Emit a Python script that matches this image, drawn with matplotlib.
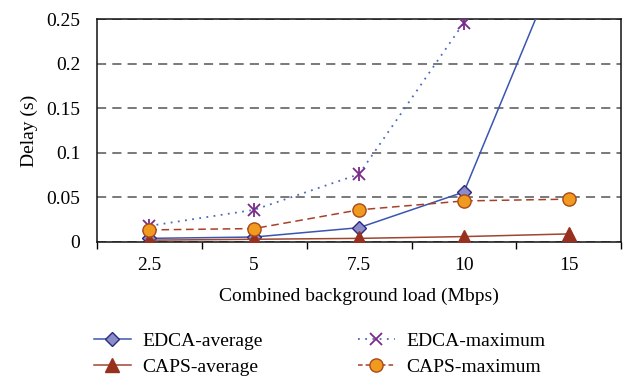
import numpy as np
import matplotlib.pyplot as plt
from matplotlib.lines import Line2D

plt.rcParams['font.family'] = ['Liberation Serif', 'DejaVu Serif']

loads = ['2.5', '5', '7.5', '10', '15']
edca_avg = [0.004, 0.0055, 0.016, 0.056, 0.34]
edca_max = [0.018, 0.036, 0.076, 0.246, 0.60]
caps_avg = [0.002, 0.003, 0.004, 0.006, 0.009]
caps_max = [0.0135, 0.015, 0.036, 0.046, 0.048]

x = np.arange(len(loads))

fig = plt.figure(figsize=(6.25, 3.81), dpi=100)
ax = fig.add_axes([0.155, 0.365, 0.839, 0.585])

ax.plot(x, edca_avg, color='#3a56b0', lw=1.1, marker='D', ms=7.5,
        mfc='#8c8cc8', mec='#2a2a80', mew=1, zorder=4)
ax.plot(x, caps_avg, color='#a0452e', lw=1.1, marker='^', ms=10,
        mfc='#983020', mec='#983020', zorder=4)
ax.plot(x, edca_max, color='#4a6ac0', lw=1.3, ls=(0, (1, 3)), marker='x', ms=9,
        mec='#7a2a8a', mew=1.3, zorder=4)
ax.plot(x, edca_max, ls='none', marker='|', ms=10, mec='#7a2a8a', mew=1.3, zorder=4)
ax.plot(x, caps_max, color='#a84028', lw=1.1, ls=(0, (5, 3)), marker='o', ms=9.5,
        mfc='#f09a20', mec='#a84a18', mew=1, zorder=4)

ax.set_xlim(-0.5, len(loads) - 0.5)
ax.set_ylim(0, 0.25)
ax.set_xticks(x)
ax.set_xticklabels(loads)
ax.set_xticks(np.arange(-0.5, len(loads)), minor=True)
ax.tick_params(axis='x', which='major', length=0, labelsize=14, pad=11)
ax.tick_params(axis='x', which='minor', length=5, direction='out', width=1)
ax.set_yticks([0, 0.05, 0.1, 0.15, 0.2, 0.25])
ax.set_yticklabels(['0', '0.05', '0.1', '0.15', '0.2', '0.25'])
ax.tick_params(axis='y', length=0, pad=12, labelsize=14)
ax.grid(axis='y', ls=(0, (6, 4)), color='#555555', lw=1.1)
for s in ax.spines.values():
    s.set_linewidth(1.1)
    s.set_color('#111111')

ax.set_xlabel('Combined background load (Mbps)', fontsize=14, labelpad=10)
ax.set_ylabel('Delay (s)', fontsize=14, labelpad=6)

handles = [
    Line2D([], [], color='#3a56b0', lw=1.1, marker='D', ms=7.5, mfc='#8c8cc8', mec='#2a2a80'),
    Line2D([], [], color='#a0452e', lw=1.1, marker='^', ms=10, mfc='#983020', mec='#983020'),
    Line2D([], [], color='#4a6ac0', lw=1.3, ls=(0, (1, 3)), marker='x', ms=9, mec='#7a2a8a', mew=1.3),
    Line2D([], [], color='#a84028', lw=1.1, ls=(0, (3, 2)), marker='o', ms=9.5, mfc='#f09a20', mec='#a84a18'),
]
fig.legend(handles, ['EDCA-average', 'CAPS-average', 'EDCA-maximum', 'CAPS-maximum'],
           loc='lower left', bbox_to_anchor=(0.122, -0.033), ncol=2, frameon=False,
           fontsize=14, columnspacing=4.9, handlelength=1.9, handletextpad=0.6,
           labelspacing=0.42)

fig.savefig('out.png', dpi=100)
